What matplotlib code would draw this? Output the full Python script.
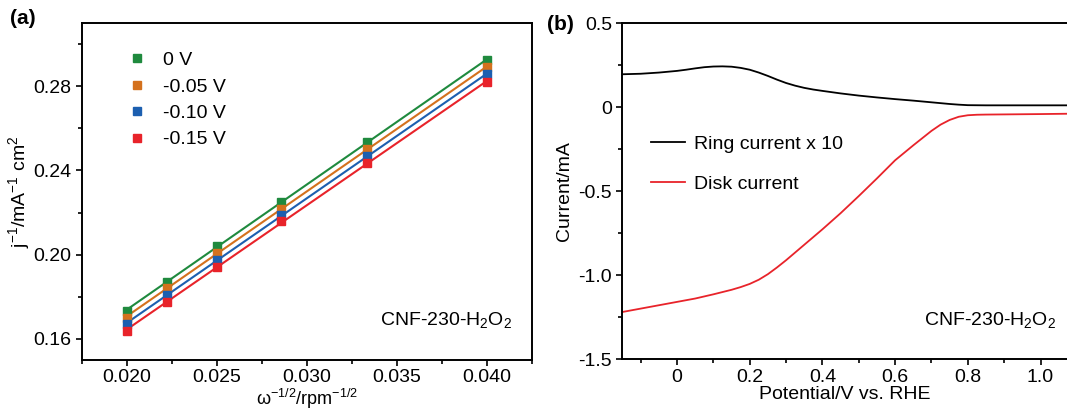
import numpy as np
import matplotlib
matplotlib.use('Agg')
import matplotlib.pyplot as plt
from matplotlib.ticker import MultipleLocator, FuncFormatter

plt.rcParams['font.family'] = ['Liberation Sans', 'DejaVu Sans']
plt.rcParams['mathtext.fontset'] = 'custom'
plt.rcParams['mathtext.rm'] = 'Liberation Sans'
plt.rcParams['mathtext.it'] = 'Liberation Sans:italic'
plt.rcParams['mathtext.default'] = 'regular'
plt.rcParams['axes.unicode_minus'] = False

# (a) Koutecky-Levich data
w_inv = [0.0200, 0.02222, 0.0250, 0.02857, 0.03333, 0.0400]
potentials = ['0 V', '-0.05 V', '-0.10 V', '-0.15 V']
j_inv_0 = [0.1733, 0.1871, 0.2043, 0.2252, 0.2533, 0.2924]
j_inv_005 = [0.1700, 0.1843, 0.2010, 0.2219, 0.2500, 0.2890]
j_inv_010 = [0.1671, 0.1810, 0.1976, 0.2186, 0.2467, 0.2857]
j_inv_015 = [0.1638, 0.1776, 0.1943, 0.2162, 0.2433, 0.2819]
kl_colors = ['#1f8a3e', '#d4711d', '#1c5fb0', '#e8232a']

# (b) RRDE data
pot_ring = [-0.15, -0.10, -0.05, 0.00, 0.025, 0.05, 0.075, 0.10, 0.125, 0.15, 0.175, 0.20,
            0.225, 0.25, 0.275, 0.30, 0.325, 0.35, 0.375, 0.40, 0.45, 0.50, 0.55, 0.60,
            0.65, 0.70, 0.75, 0.775, 0.80, 0.85, 0.90, 1.00, 1.075]
ring_x10 = [0.195, 0.198, 0.205, 0.215, 0.222, 0.230, 0.237, 0.241, 0.242, 0.240, 0.233, 0.222,
            0.205, 0.185, 0.163, 0.143, 0.127, 0.114, 0.104, 0.096, 0.081, 0.068, 0.057, 0.047,
            0.038, 0.028, 0.018, 0.014, 0.011, 0.010, 0.010, 0.010, 0.010]
pot_disk = [-0.15, -0.10, -0.05, 0.00, 0.05, 0.10, 0.15, 0.175, 0.20, 0.225, 0.25, 0.275,
            0.30, 0.325, 0.35, 0.40, 0.45, 0.50, 0.55, 0.60, 0.65, 0.70, 0.725, 0.75,
            0.775, 0.80, 0.825, 0.85, 0.90, 1.00, 1.075]
disk = [-1.22, -1.20, -1.18, -1.16, -1.14, -1.115, -1.088, -1.072, -1.053, -1.028, -0.995, -0.955,
        -0.912, -0.866, -0.82, -0.728, -0.632, -0.53, -0.425, -0.317, -0.228, -0.142, -0.105, -0.077,
        -0.058, -0.049, -0.046, -0.045, -0.044, -0.042, -0.040]

fig = plt.figure(figsize=(10.67, 4.11), dpi=100)
ax1 = fig.add_axes([0.0769, 0.1241, 0.4217, 0.82])
ax2 = fig.add_axes([0.5834, 0.1265, 0.4170, 0.8175])

fs = 14

def style(ax):
    for s in ax.spines.values():
        s.set_linewidth(1.4)
    ax.tick_params(which='major', direction='out', length=4.5, width=1.2, labelsize=fs, pad=3)
    ax.tick_params(which='minor', direction='out', length=3, width=1.2)

# panel (a)
x = np.array(w_inv)
for ys, c, lab in zip([j_inv_0, j_inv_005, j_inv_010, j_inv_015], kl_colors, potentials):
    k, b = np.polyfit(x, ys, 1)
    ax1.plot(x, k * x + b, color=c, lw=1.5, zorder=2)
    ax1.plot(x, ys, 's', color=c, ms=6, label=lab, zorder=3, linestyle='none')
ax1.set_xlim(0.0175, 0.0425)
ax1.set_ylim(0.15, 0.31)
ax1.xaxis.set_major_locator(MultipleLocator(0.005))
ax1.xaxis.set_minor_locator(MultipleLocator(0.0025))
ax1.yaxis.set_major_locator(MultipleLocator(0.04))
ax1.yaxis.set_minor_locator(MultipleLocator(0.02))
ax1.xaxis.set_major_formatter(FuncFormatter(lambda v, p: f'{v:.3f}'))
ax1.yaxis.set_major_formatter(FuncFormatter(lambda v, p: f'{v:.2f}'))
style(ax1)
ax1.tick_params(axis='x', which='major', pad=2)
ax1.set_xlabel('ω$^{-1/2}$/rpm$^{-1/2}$', fontsize=13, va='bottom')
ax1.xaxis.set_label_coords(0.5, -0.151)
ax1.set_ylabel('j$^{-1}$/mA$^{-1}$ cm$^{2}$', fontsize=fs, labelpad=1)
ax1.legend(loc='upper left', bbox_to_anchor=(0.1, 0.915), frameon=False, fontsize=fs,
           handlelength=1.0, handletextpad=0.85, labelspacing=0.45, borderpad=0,
           borderaxespad=0, markerscale=0.85)
ax1.text(0.955, 0.12, 'CNF-230-H$_2$O$_2$', transform=ax1.transAxes, fontsize=fs,
         ha='right', va='center')

# panel (b)
ax2.plot(pot_ring, ring_x10, color='black', lw=1.3, label='Ring current x 10')
ax2.plot(pot_disk, disk, color='#e8232a', lw=1.3, label='Disk current')
ax2.set_xlim(-0.15, 1.074)
ax2.set_ylim(-1.5, 0.5)
ax2.xaxis.set_major_locator(MultipleLocator(0.2))
ax2.xaxis.set_minor_locator(MultipleLocator(0.1))
ax2.yaxis.set_major_locator(MultipleLocator(0.5))
ax2.yaxis.set_minor_locator(MultipleLocator(0.25))
fmt = FuncFormatter(lambda v, p: '0' if abs(v) < 1e-9 else f'{v:.1f}')
ax2.xaxis.set_major_formatter(fmt)
ax2.yaxis.set_major_formatter(fmt)
ax2.spines['right'].set_visible(False)
style(ax2)
ax2.set_xlabel('Potential/V vs. RHE', fontsize=fs, labelpad=0)
ax2.set_ylabel('Current/mA', fontsize=fs, labelpad=4)
ax2.legend(loc='upper left', bbox_to_anchor=(0.063, 0.665), frameon=False, fontsize=fs,
           handlelength=1.75, handletextpad=0.5, labelspacing=1.15, borderpad=0,
           borderaxespad=0)
ax2.text(0.975, 0.115, 'CNF-230-H$_2$O$_2$', transform=ax2.transAxes, fontsize=fs,
         ha='right', va='center')

fig.text(0.009, 0.955, '(a)', fontsize=15, fontweight='bold', va='center', ha='left')
fig.text(0.513, 0.94, '(b)', fontsize=15, fontweight='bold', va='center', ha='left')

fig.savefig('out.png', dpi=100)
